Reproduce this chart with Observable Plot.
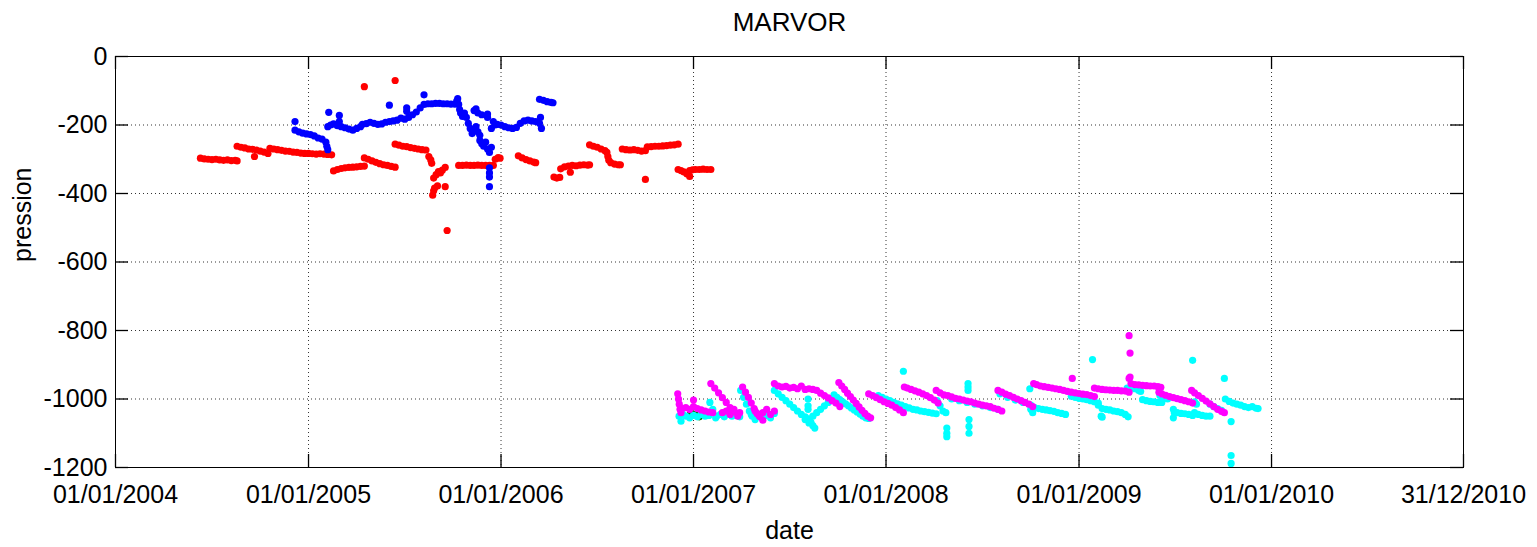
<!DOCTYPE html>
<html>
<head>
<meta charset="utf-8">
<script src="https://cdn.jsdelivr.net/npm/d3@7"></script>
<script src="https://cdn.jsdelivr.net/npm/@observablehq/plot@0.6"></script>
<style>
  html, body { margin: 0; padding: 0; background: #fff; }
</style>
</head>
<body>
<div id="chart"></div>
<script>
// ---- Data: [decimal year, pression] ----
const redSeries = [
  [2004.44,-297],[2004.46,-299],[2004.48,-300],[2004.50,-301],[2004.52,-300],[2004.54,-302],[2004.56,-303],[2004.58,-302],[2004.60,-304],[2004.62,-303],[2004.63,-305],
  [2004.63,-262],[2004.65,-265],[2004.67,-267],[2004.69,-270],[2004.71,-271],[2004.73,-273],[2004.75,-276],[2004.77,-279],[2004.79,-283],[2004.72,-292],
  [2004.80,-268],[2004.82,-270],[2004.84,-272],[2004.86,-274],[2004.88,-276],[2004.90,-277],[2004.92,-279],[2004.94,-280],[2004.96,-282],[2004.98,-283],[2005.00,-283],[2005.02,-284],[2005.04,-285],[2005.06,-284],[2005.08,-285],[2005.10,-286],[2005.12,-287],
  [2005.13,-334],[2005.15,-330],[2005.17,-327],[2005.19,-325],[2005.21,-324],[2005.23,-323],[2005.25,-322],[2005.27,-321],[2005.29,-320],
  [2005.29,-296],[2005.31,-300],[2005.33,-305],[2005.35,-309],[2005.37,-313],[2005.39,-316],[2005.41,-318],[2005.43,-321],[2005.45,-323],
  [2005.29,-88],[2005.45,-70],
  [2005.45,-256],[2005.47,-259],[2005.49,-262],[2005.51,-263],[2005.53,-266],[2005.55,-268],[2005.57,-270],[2005.59,-272],[2005.61,-273],
  [2005.625,-292],[2005.635,-302],[2005.64,-312],
  [2005.65,-355],[2005.663,-345],[2005.675,-336],[2005.685,-340],[2005.695,-332],[2005.71,-324],
  [2005.645,-405],[2005.65,-392],[2005.655,-384],[2005.67,-378],[2005.71,-380],
  [2005.72,-508],
  [2005.78,-318],[2005.80,-318],[2005.82,-317],[2005.84,-318],[2005.86,-318],[2005.88,-317],[2005.90,-318],[2005.92,-318],[2005.94,-318],[2005.96,-318],
  [2005.97,-300],[2005.985,-295],[2005.995,-297],
  [2006.09,-290],[2006.11,-296],[2006.13,-301],[2006.15,-305],[2006.17,-308],[2006.18,-310],
  [2006.275,-352],[2006.29,-355],[2006.305,-353],
  [2006.31,-328],[2006.33,-322],[2006.35,-320],[2006.37,-318],[2006.39,-319],[2006.41,-317],[2006.43,-316],[2006.45,-317],[2006.46,-316],[2006.36,-338],
  [2006.46,-258],[2006.48,-262],[2006.50,-265],[2006.52,-270],[2006.54,-275],
  [2006.55,-280],[2006.555,-292],[2006.56,-303],[2006.57,-310],[2006.59,-314],[2006.61,-316],[2006.62,-316],
  [2006.63,-270],[2006.65,-272],[2006.67,-273],[2006.69,-272],[2006.71,-274],[2006.73,-276],[2006.75,-275],
  [2006.75,-359],
  [2006.76,-264],[2006.78,-263],[2006.80,-262],[2006.82,-262],[2006.84,-261],[2006.86,-260],[2006.88,-259],[2006.90,-258],[2006.92,-256],
  [2006.92,-330],[2006.935,-333],[2006.95,-337],[2006.965,-342],[2006.98,-350],
  [2006.98,-333],[2006.995,-331],[2007.01,-330],[2007.03,-330],[2007.05,-329],[2007.07,-330],[2007.09,-330]
];

const blueSeries = [
  [2004.93,-190],
  [2004.93,-215],[2004.95,-220],[2004.97,-224],[2004.99,-226],[2005.01,-228],[2005.03,-232],[2005.05,-238],[2005.07,-241],[2005.09,-250],[2005.095,-262],[2005.10,-272],
  [2005.105,-163],
  [2005.10,-205],[2005.115,-200],[2005.13,-197],[2005.15,-202],[2005.16,-190],[2005.17,-205],[2005.19,-208],[2005.21,-212],[2005.23,-215],[2005.25,-210],[2005.27,-205],
  [2005.16,-172],
  [2005.28,-198],[2005.30,-196],[2005.32,-192],[2005.34,-195],[2005.36,-198],[2005.38,-197],[2005.40,-192],[2005.42,-190],[2005.44,-188],[2005.46,-186],[2005.48,-180],[2005.50,-183],[2005.52,-178],[2005.54,-170],[2005.56,-162],[2005.58,-150],
  [2005.42,-142],[2005.51,-150],[2005.51,-160],
  [2005.60,-112],
  [2005.60,-140],[2005.62,-138],[2005.64,-138],[2005.66,-137],[2005.68,-137],[2005.70,-138],[2005.72,-138],[2005.74,-139],[2005.76,-139],
  [2005.77,-130],[2005.775,-123],[2005.78,-140],[2005.785,-155],[2005.79,-165],[2005.80,-175],[2005.81,-165],[2005.82,-178],
  [2005.83,-195],[2005.84,-210],[2005.85,-225],[2005.86,-215],[2005.87,-205],[2005.88,-220],[2005.89,-230],
  [2005.86,-158],[2005.87,-153],[2005.88,-165],[2005.90,-170],
  [2005.89,-245],[2005.90,-255],[2005.91,-262],[2005.92,-250],[2005.93,-270],[2005.94,-280],[2005.95,-265],
  [2005.93,-168],[2005.93,-178],
  [2005.94,-325],[2005.94,-340],[2005.94,-352],[2005.94,-380],
  [2005.95,-210],[2005.96,-190],[2005.97,-200],[2005.98,-198],
  [2006.00,-200],[2006.02,-205],[2006.04,-208],[2006.06,-210],[2006.08,-207],[2006.10,-195],[2006.12,-188],[2006.14,-186],[2006.16,-188],[2006.18,-190],[2006.20,-195],[2006.21,-210],
  [2006.205,-178],
  [2006.20,-125],[2006.22,-128],[2006.24,-132],[2006.26,-134],[2006.27,-135]
];

const greenSeries = [
  [2006.985,-1040],[2007.0,-1045],[2007.015,-1048],[2007.03,-1052]
];

const cyanSeries = [
  [2006.925,-1050],[2006.935,-1065],[2006.945,-1045],[2006.96,-1050],[2006.98,-1055],[2007.00,-1048],[2007.02,-1052],[2007.04,-1045],[2007.06,-1050],[2007.08,-1048],
  [2007.085,-1010],[2007.10,-1030],[2007.115,-1055],
  [2007.12,-1050],[2007.14,-1045],[2007.16,-1052],[2007.18,-1040],[2007.20,-1050],[2007.22,-1045],[2007.24,-1052],
  [2007.245,-975],[2007.26,-995],[2007.275,-1015],[2007.29,-1035],[2007.305,-1050],[2007.32,-1055],
  [2007.30,-1045],[2007.32,-1060],[2007.34,-1050],[2007.36,-1055],[2007.38,-1048],[2007.40,-1055],[2007.42,-1042],
  [2007.42,-975],[2007.44,-985],[2007.46,-995],[2007.48,-1005],[2007.50,-1015],[2007.52,-1025],[2007.54,-1035],[2007.56,-1045],[2007.58,-1052],[2007.60,-1058],[2007.62,-1050],[2007.64,-1040],[2007.66,-1030],[2007.68,-1020],[2007.70,-1010],[2007.72,-1000],
  [2007.60,-1070],[2007.62,-1078],[2007.63,-1085],[2007.61,-1068],[2007.58,-1060],
  [2007.595,-1000],[2007.595,-1020],[2007.595,-1030],
  [2007.73,-988],[2007.745,-995],[2007.76,-1002],[2007.775,-1008],[2007.79,-1014],[2007.805,-1020],[2007.82,-1026],[2007.835,-1032],[2007.85,-1038],[2007.865,-1044],[2007.88,-1050],[2007.895,-1055],[2007.91,-1057],
  [2007.96,-990],[2007.98,-995],[2008.00,-1000],[2008.02,-1005],[2008.04,-1010],[2008.06,-1014],[2008.08,-1018],[2008.10,-1022],[2008.12,-1026],[2008.14,-1030],[2008.16,-1032],[2008.18,-1035],[2008.20,-1037],[2008.22,-1039],[2008.24,-1041],[2008.26,-1043],
  [2008.09,-919],
  [2008.265,-1005],[2008.28,-1020],[2008.295,-1035],[2008.31,-1040],
  [2008.315,-1085],[2008.315,-1100],[2008.315,-1110],
  [2008.34,-1000],[2008.38,-1005],[2008.42,-1010],[2008.46,-1015],[2008.50,-1020],[2008.54,-1025],[2008.58,-1030],
  [2008.425,-955],[2008.425,-965],[2008.425,-975],[2008.43,-1060],[2008.43,-1080],[2008.43,-1100],
  [2008.59,-985],[2008.63,-995],[2008.67,-1003],[2008.71,-1010],[2008.75,-1018],
  [2008.745,-970],
  [2008.75,-1030],[2008.76,-1040],[2008.77,-1025],[2008.79,-1028],[2008.81,-1030],[2008.83,-1032],[2008.85,-1034],[2008.87,-1036],[2008.89,-1040],[2008.91,-1042],[2008.93,-1045],
  [2008.96,-992],[2008.98,-995],[2009.00,-998],[2009.02,-1000],[2009.04,-1002],[2009.06,-1005],[2009.08,-1008],[2009.10,-1012],
  [2009.10,-1018],[2009.12,-1028],[2009.14,-1030],[2009.16,-1032],[2009.18,-1035],[2009.20,-1037],[2009.22,-1040],[2009.24,-1045],[2009.255,-1052],
  [2009.12,-1053],[2009.115,-1050],
  [2009.07,-885],
  [2009.25,-968],[2009.27,-965],[2009.29,-970],[2009.31,-975],[2009.32,-978],
  [2009.33,-1002],[2009.35,-1005],[2009.37,-1007],[2009.39,-1008],[2009.41,-1010],[2009.43,-1010],
  [2009.42,-990],[2009.44,-995],[2009.46,-1000],
  [2009.49,-1030],[2009.49,-1055],[2009.495,-1040],[2009.51,-1040],[2009.53,-1042],[2009.55,-1043],[2009.57,-1045],[2009.59,-1048],
  [2009.60,-1040],[2009.62,-1045],[2009.64,-1048],[2009.66,-1050],[2009.68,-1050],
  [2009.60,-1008],[2009.61,-1015],
  [2009.68,-1015],[2009.70,-1022],[2009.72,-1028],[2009.74,-1033],
  [2009.59,-887],[2009.755,-940],[2009.79,-1066],[2009.79,-1165],[2009.79,-1188],
  [2009.76,-1000],[2009.78,-1007],[2009.80,-1012],[2009.82,-1015],[2009.84,-1018],[2009.86,-1022],[2009.88,-1025],[2009.90,-1022],[2009.92,-1027],[2009.93,-1028]
];

const magentaSeries = [
  [2006.918,-985],[2006.922,-1000],[2006.926,-1015],[2006.93,-1030],[2006.935,-1040],
  [2006.94,-1028],[2006.96,-1025],[2006.98,-1030],[2007.00,-1022],[2007.02,-1028],[2007.04,-1032],[2007.06,-1035],[2007.08,-1038],[2007.10,-1040],
  [2007.0,-1003],
  [2007.09,-955],[2007.11,-968],[2007.13,-982],[2007.15,-996],[2007.17,-1010],[2007.19,-1025],[2007.21,-1038],[2007.23,-1050],
  [2007.15,-1040],[2007.17,-1035],[2007.19,-1045],[2007.21,-1030],[2007.24,-1040],
  [2007.255,-965],[2007.27,-980],[2007.285,-995],[2007.30,-1012],[2007.315,-1028],[2007.33,-1042],[2007.345,-1052],[2007.36,-1062],
  [2007.32,-1035],[2007.34,-1048],[2007.36,-1040],[2007.38,-1030],[2007.40,-1045],[2007.42,-1035],
  [2007.42,-955],[2007.44,-962],[2007.46,-965],[2007.48,-963],[2007.50,-968],[2007.52,-966],[2007.54,-970],[2007.56,-962],[2007.58,-972],[2007.60,-970],[2007.62,-972],[2007.64,-975],[2007.66,-983],[2007.68,-990],[2007.70,-997],[2007.72,-1005],[2007.74,-1012],[2007.76,-1022],
  [2007.755,-952],[2007.77,-962],[2007.785,-972],[2007.80,-983],[2007.815,-993],[2007.83,-1003],[2007.845,-1013],[2007.86,-1023],[2007.875,-1033],[2007.89,-1042],[2007.905,-1050],[2007.92,-1055],
  [2007.91,-985],[2007.93,-990],[2007.95,-996],[2007.97,-1002],[2007.99,-1008],[2008.01,-1013],[2008.03,-1018],[2008.05,-1025],[2008.07,-1032],[2008.09,-1040],
  [2008.095,-965],[2008.11,-968],[2008.13,-972],[2008.15,-976],[2008.17,-980],[2008.19,-985],[2008.21,-990],[2008.23,-996],[2008.25,-1003],[2008.27,-1012],
  [2008.26,-975],[2008.28,-982],[2008.30,-988],[2008.32,-990],[2008.34,-994],[2008.36,-998],[2008.38,-1000],[2008.40,-1003],[2008.42,-1006],[2008.44,-1008],[2008.46,-1012],[2008.48,-1015],[2008.50,-1018],[2008.52,-1020],[2008.54,-1022],[2008.56,-1027],[2008.58,-1030],[2008.60,-1035],
  [2008.58,-975],[2008.60,-980],[2008.62,-986],[2008.64,-990],[2008.66,-995],[2008.68,-1000],[2008.70,-1005],[2008.72,-1010],[2008.74,-1015],[2008.76,-1022],
  [2008.765,-955],[2008.78,-958],[2008.80,-962],[2008.82,-964],[2008.84,-966],[2008.86,-968],[2008.88,-970],[2008.90,-972],[2008.92,-975],[2008.94,-978],[2008.96,-980],[2008.98,-982],[2009.00,-984],[2009.02,-986],[2009.04,-987],[2009.06,-990],[2009.08,-993],
  [2008.965,-940],
  [2009.08,-968],[2009.10,-970],[2009.12,-972],[2009.14,-973],[2009.16,-974],[2009.18,-975],[2009.20,-975],[2009.22,-976],[2009.24,-977],[2009.26,-980],
  [2009.26,-940],[2009.27,-955],[2009.29,-958],[2009.31,-959],[2009.33,-960],[2009.35,-961],[2009.37,-962],[2009.39,-962],[2009.41,-964],[2009.425,-966],
  [2009.26,-815],[2009.265,-866],[2009.265,-936],
  [2009.415,-980],[2009.43,-985],[2009.45,-989],[2009.47,-993],[2009.49,-996],[2009.51,-999],[2009.53,-1002],[2009.55,-1005],[2009.57,-1008],[2009.59,-1012],
  [2009.585,-975],[2009.60,-982],[2009.62,-990],[2009.64,-998],[2009.66,-1006],[2009.68,-1014],[2009.70,-1022],[2009.72,-1030],[2009.74,-1036],[2009.755,-1040]
];

const seriesNames = ["red", "blue", "green", "cyan", "magenta"];
const seriesColors = ["#ff0000", "#0000ff", "#22cc00", "#00ffff", "#ff00ff"];
const seriesData = [redSeries, blueSeries, greenSeries, cyanSeries, magentaSeries];

const xTickLabels = ["01/01/2004","01/01/2005","01/01/2006","01/01/2007","01/01/2008","01/01/2009","01/01/2010","31/12/2010"];
const yTicks = [-1200, -1000, -800, -600, -400, -200, 0];
const titleText = "MARVOR";
const xLabel = "date";
const yLabel = "pression";

// ---- Helpers ----
const parseLabel = s => { const [d, m, y] = s.split("/").map(Number); return new Date(Date.UTC(y, m - 1, d)); };
const xTicks = xTickLabels.map(parseLabel);
const fmt = d3.utcFormat("%d/%m/%Y");
const toDate = t => {
  const y = Math.floor(t);
  const a = Date.UTC(y, 0, 1), b = Date.UTC(y + 1, 0, 1);
  return new Date(a + (t - y) * (b - a));
};

const rows = seriesData.flatMap((arr, i) =>
  arr.map(([t, v]) => ({date: toDate(t), value: v, series: seriesNames[i]}))
);

const W = 1537, H = 547;
const mL = 115, mR = 74, mT = 56, mB = 80;
const frameW = W - mL - mR, frameH = H - mT - mB;
const tick = 13;
const font = "'Liberation Sans', Arial, Helvetica, sans-serif";

const chart = Plot.plot({
  width: W,
  height: H,
  marginLeft: mL,
  marginRight: mR,
  marginTop: mT,
  marginBottom: mB,
  style: {fontFamily: font, fontSize: "25px", color: "#000", background: "#fff", overflow: "visible"},
  x: {type: "utc", domain: [xTicks[0], xTicks[xTicks.length - 1]]},
  y: {domain: [-1200, 0]},
  color: {domain: seriesNames, range: seriesColors},
  marks: [
    Plot.gridX(xTicks, {stroke: "#000", strokeOpacity: 0.8, strokeDasharray: "1,3"}),
    Plot.gridY(yTicks, {stroke: "#000", strokeOpacity: 0.8, strokeDasharray: "1,3"}),
    // tick labels
    Plot.axisX(xTicks, {anchor: "bottom", tickSize: 0, tickPadding: 18, tickFormat: fmt, label: null, fontSize: 25}),
    Plot.axisY(yTicks, {anchor: "left", tickSize: 0, tickPadding: 8, tickFormat: d => String(d), label: null, fontSize: 25}),
    // inward tick marks on all four sides
    Plot.ruleX(xTicks, {x: d => d, insetTop: frameH - tick, stroke: "#000", strokeWidth: 1.3}),
    Plot.ruleX(xTicks, {x: d => d, insetBottom: frameH - tick, stroke: "#000", strokeWidth: 1.3}),
    Plot.ruleY(yTicks, {y: d => d, insetRight: frameW - tick, stroke: "#000", strokeWidth: 1.3}),
    Plot.ruleY(yTicks, {y: d => d, insetLeft: frameW - tick, stroke: "#000", strokeWidth: 1.3}),
    // data
    Plot.dot(rows, {x: "date", y: "value", fill: "series", symbol: "circle", r: 3.6, stroke: "none"}),
    Plot.frame({stroke: "#000", strokeWidth: 1}),
    // titles
    Plot.text([titleText], {frameAnchor: "top", lineAnchor: "middle", dy: -34, text: d => d, fontSize: 26, fill: "#000"}),
    Plot.text([xLabel], {frameAnchor: "bottom", lineAnchor: "middle", dy: 63, text: d => d, fontSize: 25, fill: "#000"}),
    Plot.text([yLabel], {frameAnchor: "left", lineAnchor: "middle", dx: -93, rotate: -90, text: d => d, fontSize: 25, fill: "#000"})
  ]
});

document.getElementById("chart").appendChild(chart);
</script>
</body>
</html>
